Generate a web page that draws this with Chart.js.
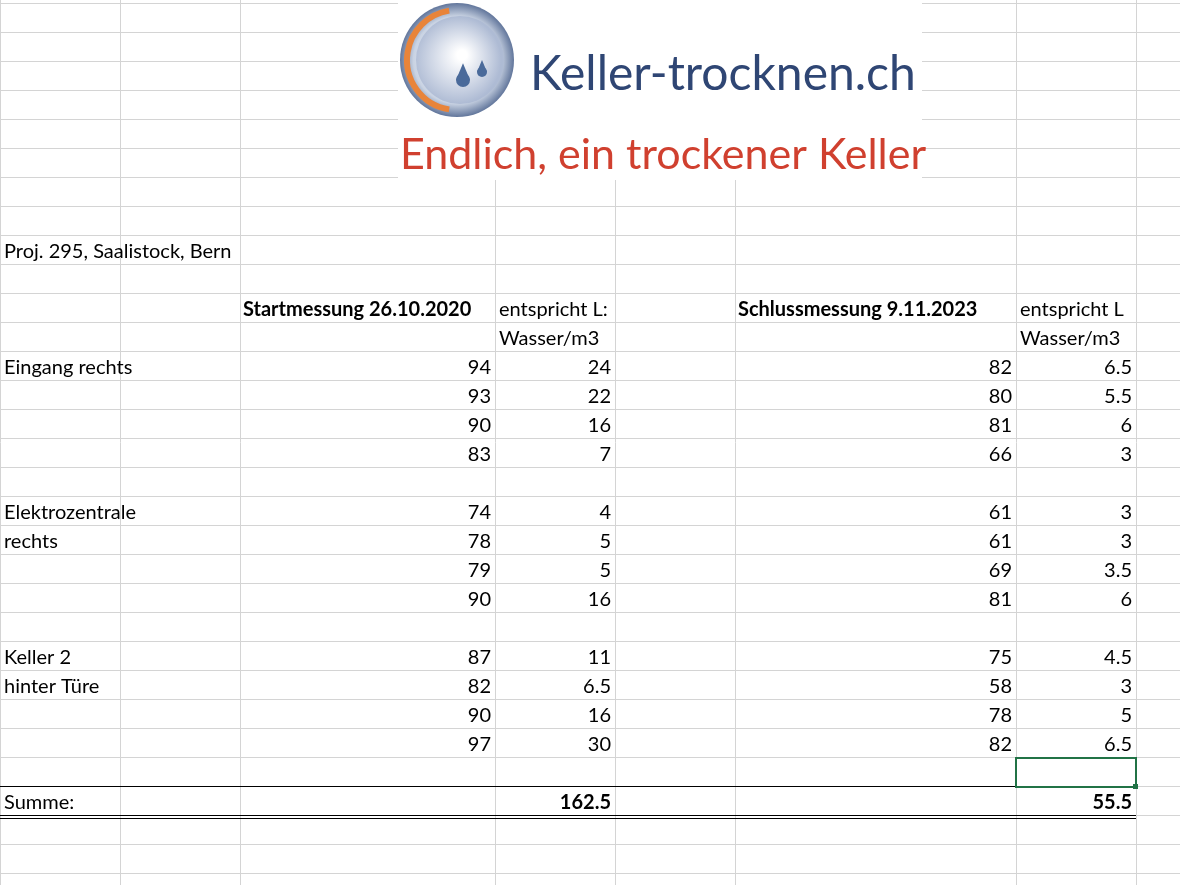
<!DOCTYPE html>
<html><head><meta charset="utf-8">
<script src="https://cdn.jsdelivr.net/npm/chart.js"></script>
<style>html,body{margin:0;padding:0;background:#fff}#w{width:1180px;height:885px}</style>
</head><body><div id="w"><canvas id="c"></canvas></div>
<script>
const rowLabels = ["Eingang rechts","","","","","Elektrozentrale","rechts","","","","Keller 2","hinter Türe","",""];
const startValues = [94,93,90,83,null,74,78,79,90,null,87,82,90,97];
const startLiters = ["24","22","16","7",null,"4","5","5","16",null,"11","6.5","16","30"];
const endValues = [82,80,81,66,null,61,61,69,81,null,75,58,78,82];
const endLiters = ["6.5","5.5","6","3",null,"3","3","3.5","6",null,"4.5","3","5","6.5"];
const sums = ["162.5","55.5"];
const colEdges = [0,120,240,495,615,735,1016,1136,1180];
const F = "Lato, 'Open Sans', sans-serif";

const tablePlugin = {
  id:'table',
  afterDraw(chart){
    const ctx = chart.ctx, xs = chart.scales.x, ys = chart.scales.y;
    const X = v=>xs.getPixelForValue(v), Y = v=>ys.getPixelForValue(v);
    const rowTop = r => 3 + r*29;
    ctx.save();
    ctx.strokeStyle='#d4d4d4'; ctx.lineWidth=1;
    for(let r=0;r<31;r++){ctx.beginPath();ctx.moveTo(X(0),Y(rowTop(r))+.5);ctx.lineTo(X(1180),Y(rowTop(r))+.5);ctx.stroke();}
    colEdges.forEach(c=>{ctx.beginPath();ctx.moveTo(X(c)+.5,Y(0));ctx.lineTo(X(c)+.5,Y(885));ctx.stroke();});
    ctx.fillStyle='#fff'; ctx.fillRect(X(398),Y(0),524,180);
    const cx=X(457),cy=Y(60);
    let g=ctx.createRadialGradient(cx,cy,10,cx,cy,58);
    g.addColorStop(0,'#ffffff');g.addColorStop(0.7,'#c9d3e3');g.addColorStop(1,'#5a6f96');
    ctx.fillStyle=g;ctx.beginPath();ctx.arc(cx,cy,57,0,Math.PI*2);ctx.fill();
    ctx.strokeStyle='#e8843a';ctx.lineWidth=6;ctx.beginPath();ctx.arc(cx,cy,50,Math.PI*0.55,Math.PI*1.45);ctx.stroke();
    let g2=ctx.createRadialGradient(cx+5,cy-5,5,cx,cy,44);
    g2.addColorStop(0,'#ffffff');g2.addColorStop(1,'#aebbd4');
    ctx.fillStyle=g2;ctx.beginPath();ctx.arc(cx+3,cy,44,0,Math.PI*2);ctx.fill();
    ctx.fillStyle='#4a6a9a';
    [[463,80,7],[482,72,5]].forEach(([dx,dy,r])=>{ctx.beginPath();ctx.arc(X(dx),Y(dy),r,0,Math.PI*2);ctx.fill();ctx.beginPath();ctx.moveTo(X(dx)-r,Y(dy));ctx.lineTo(X(dx),Y(dy)-r*2.4);ctx.lineTo(X(dx)+r,Y(dy));ctx.fill();});
    ctx.fillStyle='#2f4674';ctx.font="48px "+F;ctx.textBaseline='middle';ctx.textAlign='left';
    ctx.fillText("Keller-trocknen.ch",X(530),Y(75));
    ctx.fillStyle='#d0402f';ctx.font="43px "+F;
    ctx.fillText("Endlich, ein trockener Keller",X(400),Y(155));
    const txt=(s,x,r,align,bold)=>{ctx.fillStyle='#000';ctx.font=(bold?'bold ':'')+"20px "+F;ctx.textAlign=align;ctx.fillText(s,X(x),Y(rowTop(r)+16.5));};
    txt("Proj. 295, Saalistock, Bern",4,8,'left');
    txt("Startmessung 26.10.2020",243,10,'left',true);
    txt("entspricht L:",499,10,'left');
    txt("Wasser/m3",499,11,'left');
    txt("Schlussmessung 9.11.2023",738,10,'left',true);
    txt("entspricht L",1020,10,'left');
    txt("Wasser/m3",1020,11,'left');
    rowLabels.forEach((l,i)=>{const r=12+i;
      if(l) txt(l,4,r,'left');
      if(startValues[i]!=null){txt(String(startValues[i]),491,r,'right');txt(startLiters[i],611,r,'right');txt(String(endValues[i]),1012,r,'right');txt(endLiters[i],1132,r,'right');}
    });
    txt("Summe:",4,27,'left');
    txt(sums[0],611,27,'right',true);
    txt(sums[1],1132,27,'right',true);
    ctx.strokeStyle='#000';ctx.lineWidth=1;
    ctx.beginPath();ctx.moveTo(X(0),Y(786)+.5);ctx.lineTo(X(1136),Y(786)+.5);ctx.stroke();
    [815,818].forEach(y=>{ctx.beginPath();ctx.moveTo(X(0),Y(y)+.5);ctx.lineTo(X(1136),Y(y)+.5);ctx.stroke();});
    ctx.strokeStyle='#217346';ctx.lineWidth=2;ctx.strokeRect(X(1016),Y(758),120,29);
    ctx.fillStyle='#217346';ctx.fillRect(X(1133),Y(784),5,5);
    ctx.restore();
  }
};
new Chart(document.getElementById('c'),{
  type:'scatter',
  data:{datasets:[{data:[],showLine:false}]},
  options:{responsive:true,maintainAspectRatio:false,animation:false,
    layout:{padding:0},
    plugins:{legend:{display:false},tooltip:{enabled:false}},
    scales:{x:{type:'linear',min:0,max:1180,display:false},y:{type:'linear',min:0,max:885,reverse:true,display:false}}},
  plugins:[tablePlugin]
});
</script></body></html>
